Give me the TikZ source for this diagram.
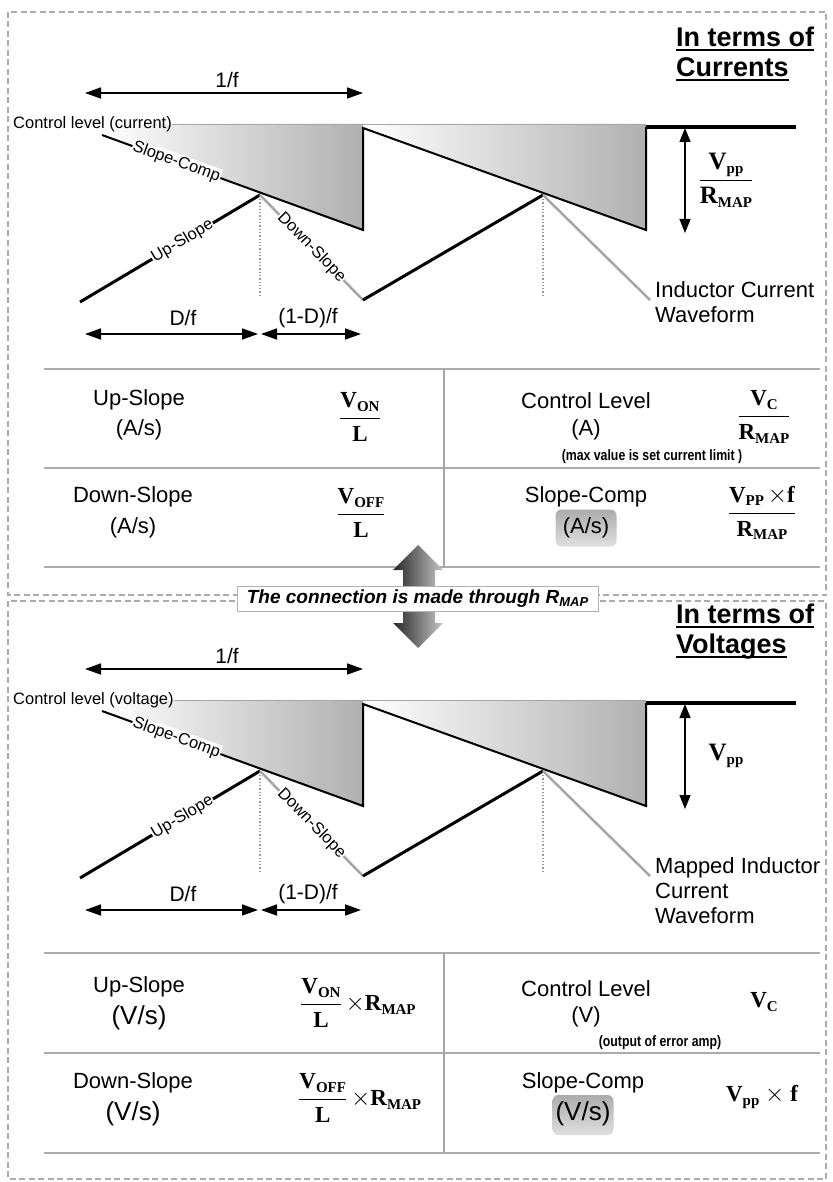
\documentclass[tikz,border=0pt]{standalone}
\usepackage{fontspec}
\setmainfont{Liberation Sans}
\newfontfamily\tms{Liberation Serif}
\usetikzlibrary{arrows.meta}
\newcommand\fsz[2]{\fontsize{#1}{#2}\selectfont}
\newcommand\sbs[1]{\raisebox{-0.35ex}{\fontsize{15}{15}\selectfont #1}}
\newcommand\fracb[2]{$\displaystyle\frac{\hbox{#1}}{\hbox{#2}}$}
\tikzset{
  border/.style={draw=gray!65, line width=2.6pt, dash pattern=on 6pt off 3.5pt},
  tline/.style={draw=gray!65, line width=2pt},
  vline/.style={draw=gray!70, line width=1.5pt},
  dimarrow/.style={{Triangle[length=16pt,width=11pt]}-{Triangle[length=16pt,width=11pt]}, line width=1.6pt},
  vpparrow/.style={{Triangle[length=14pt,width=11pt]}-{Triangle[length=14pt,width=11pt]}, line width=1.2pt},
  lab/.style={font=\fsz{22}{25}, inner sep=0pt},
  biglab/.style={font=\fsz{26}{30}, inner sep=0pt},
  frm/.style={font=\fsz{23}{27}\tms\bfseries, inner sep=0pt},
  wl/.style={font=\fsz{16.5}{18}, fill=white, inner sep=0.8pt, sloped},
  ctltext/.style={font=\fsz{16.5}{18}, inner sep=0pt},
  ttl/.style={font=\fsz{27}{30}\bfseries, inner sep=0pt},
  unitbox/.style={rounded corners=6pt, top color=gray!65, bottom color=gray!25, draw=none},
  smallnote/.style={font=\fsz{15}{16}\bfseries, inner sep=0pt},
  sawline/.style={line width=2pt},
  upline/.style={line width=3pt},
  downline/.style={draw=gray!70, line width=2.5pt},
  guide/.style={draw=gray!80, dotted, line width=1.3pt},
  ramp/.style={left color=white, right color=gray!62},
}
% #1 prefix, #2 shift, #3 control text, #4 vpp label, #5 waveform label, #6 title 2nd line
\newcommand\wavepanel[6]{%
\begin{scope}[yshift=#2]
  \shade[ramp] (102,124) -- (363,124) -- (363,230) -- (102,135) -- cycle;
  \shade[ramp] (363,124) -- (646,124) -- (646,230) -- (363,128) -- cycle;
  \node[ctltext, anchor=west] (#1ctl) at (13,124) {#3};
  \coordinate (#1ce) at (646,124);
  \draw[gray!70, line width=0.8pt] (#1ctl.east) -- (#1ce);
  \coordinate (#1s0) at (102,135);
  \coordinate (#1s1) at (363,230);
  \coordinate (#1s2) at (363,128);
  \coordinate (#1s3) at (646,230);
  \coordinate (#1s4) at (646,127);
  \coordinate (#1s5) at (796,127);
  \draw[sawline] (#1s0) -- (#1s1) -- (#1s2) -- (#1s3) -- (#1s4);
  \draw[line width=4.5pt] (#1s4) -- (#1s5);
  \coordinate (#1i0) at (80,302);
  \coordinate (#1p1) at (260,195);
  \coordinate (#1v1) at (363,300);
  \coordinate (#1p2) at (543,195);
  \coordinate (#1i4) at (650,300);
  \draw[guide] (260,199) -- (260,297);
  \draw[guide] (543,199) -- (543,297);
  \draw[upline] (#1i0) -- (#1p1);
  \draw[downline] (#1p1) -- (#1v1);
  \draw[upline] (#1v1) -- (#1p2);
  \draw[downline] (#1p2) -- (#1i4);
  \path (#1s0) -- (#1s1) node[wl, pos=0.285] (#1lsc) {Slope-Comp};
  \path (#1i0) -- (#1p1) node[wl, pos=0.57] (#1lup) {Up-Slope};
  \path (#1p1) -- (#1v1) node[wl, pos=0.5] (#1ldn) {Down-Slope};
  % 1/f
  \coordinate (#1fa) at (85,93);
  \coordinate (#1fb) at (363,93);
  \draw[dimarrow] (#1fa) -- (#1fb);
  \node[lab, font=\fsz{21}{24}] (#1f) at (227,80) {1/f};
  % D/f
  \coordinate (#1da) at (85,334);
  \coordinate (#1db) at (258,334);
  \coordinate (#1dc) at (261,334);
  \coordinate (#1dd) at (361,334);
  \draw[dimarrow] (#1da) -- (#1db);
  \draw[dimarrow] (#1dc) -- (#1dd);
  \node[lab, font=\fsz{21}{24}] (#1df) at (183,318) {D/f};
  \node[lab, font=\fsz{21}{24}] (#1odf) at (308,318) {(1-D)/f};
  % Vpp arrow
  \coordinate (#1va) at (685,128);
  \coordinate (#1vb) at (685,233);
  \draw[vpparrow] (#1va) -- (#1vb);
  \node[frm, font=\fsz{25}{28}\tms\bfseries] (#1vl) at (726,180) {#4};
  % waveform label
  \node[lab, anchor=north west, align=left] (#1wf) at (655,281) {#5};
  % title
  \node[ttl, anchor=base west] (#1t1) at (676,47) {In terms of};
  \node[ttl, anchor=base west] (#1t2) at (676,77) {#6};
  \draw[line width=2pt] ([yshift=-3.5pt]#1t1.base west) -- ([yshift=-3.5pt]#1t1.base east);
  \draw[line width=2pt] ([yshift=-3.5pt]#1t2.base west) -- ([yshift=-3.5pt]#1t2.base east);
\end{scope}}
\begin{document}
\begin{tikzpicture}[x=1pt,y=-1pt]
\useasboundingbox[fill=white] (0,0) rectangle (832,1182);
% outer dashed boxes
\draw[border] (8,12) rectangle (826,595);
\draw[border] (8,601) rectangle (826,1179);

\wavepanel{a}{0pt}{Control level (current)}{\fracb{V\sbs{pp}}{R\sbs{MAP}}}{Inductor Current\\Waveform}{Currents}
\wavepanel{b}{-576pt}{Control level (voltage)}{V\sbs{pp}}{Mapped Inductor\\Current\\Waveform}{Voltages}

% ---------- top table ----------
\draw[tline] (44,369) -- (820,369);
\draw[tline] (44,468) -- (820,468);
\draw[tline] (44,567) -- (820,567);
\draw[vline] (444,369) -- (444,567);
\node[lab] (aus) at (139,400) {Up-Slope};
\node[lab] (ausu) at (139,430) {(A/s)};
\node[frm] (ausf) at (360,417) {\fracb{V\sbs{ON}}{L}};
\node[lab] (acl) at (586,401) {Control Level};
\node[lab] (aclu) at (586,430) {(A)};
\node[frm] (aclf) at (764,417) {\fracb{V\sbs{C}}{R\sbs{MAP}}};
\node[smallnote] (anote) at (652,457) {\scalebox{0.82}[1]{(max value is set current limit )}};
\node[lab] (ads) at (133,497) {Down-Slope};
\node[lab] (adsu) at (133,528) {(A/s)};
\node[frm] (adsf) at (361,513) {\fracb{V\sbs{OFF}}{L}};
\node[lab] (asc) at (586,497) {Slope-Comp};
\node[unitbox, minimum width=61pt, minimum height=37pt] (ascb) at (586,528) {};
\node[lab] (ascu) at (586,528) {(A/s)};
\node[frm] (ascf) at (762,513) {\fracb{V\sbs{PP}\,$\times$f}{R\sbs{MAP}}};

% ---------- bottom table ----------
\draw[tline] (44,953) -- (820,953);
\draw[tline] (44,1053) -- (820,1053);
\draw[tline] (44,1153) -- (820,1153);
\draw[vline] (444,953) -- (444,1153);
\node[lab] (bus) at (139,987) {Up-Slope};
\node[biglab] (busu) at (139,1018) {(V/s)};
\node[frm, anchor=west] (busf) at (300,1003) {\fracb{V\sbs{ON}}{L}\,$\times$R\sbs{MAP}};
\node[lab] (bcl) at (586,989) {Control Level};
\node[lab] (bclu) at (586,1017) {(V)};
\node[frm] (bclf) at (764,1002) {V\sbs{C}};
\node[smallnote] (bnote) at (660,1043) {\scalebox{0.82}[1]{(output of error amp)}};
\node[lab] (bds) at (133,1083) {Down-Slope};
\node[biglab] (bdsu) at (133,1114) {(V/s)};
\node[frm, anchor=west] (bdsf) at (298,1098) {\fracb{V\sbs{OFF}}{L}\,$\times$R\sbs{MAP}};
\node[lab] (bsc) at (583,1083) {Slope-Comp};
\node[unitbox, minimum width=61pt, minimum height=40pt] (bscb) at (583,1115) {};
\node[biglab] (bscu) at (583,1114) {(V/s)};
\node[frm] (bscf) at (762,1097) {V\sbs{pp} $\times$ f};

% ---------- middle block arrow and caption ----------
\shade[left color=black!85, right color=black!22]
  (418,545) -- (443,570) -- (435,570) -- (435,623) -- (443,623) -- (418,648)
  -- (393,623) -- (403,623) -- (403,570) -- (393,570) -- cycle;
\node[draw=gray!60, fill=white, line width=1pt, minimum width=361pt, minimum height=25pt,
      inner sep=0pt, font=\fsz{19}{21}\bfseries\itshape] (conn) at (417.5,598.5)
  {The connection is made through R\raisebox{-0.3ex}{\fsz{13}{13}MAP}};
\end{tikzpicture}
\end{document}
